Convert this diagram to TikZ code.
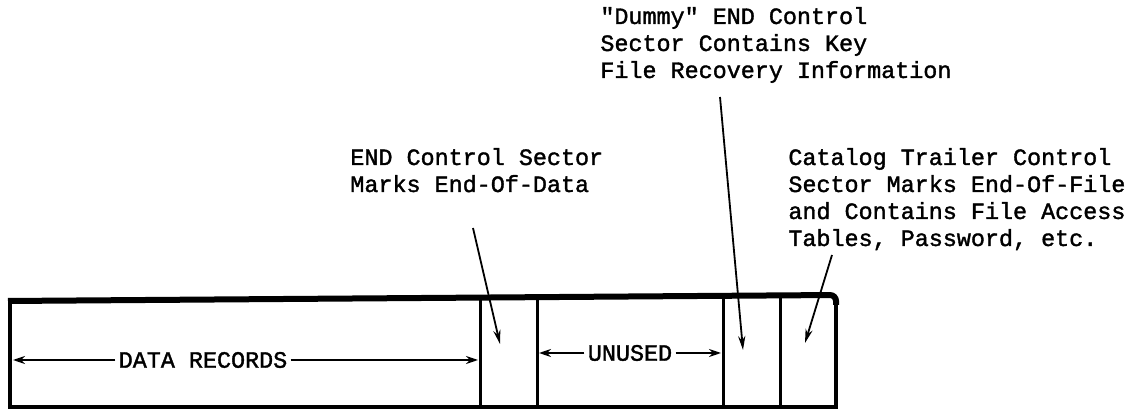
\documentclass[tikz,border=0pt]{standalone}
\usepackage{fontspec}
\newfontfamily\typewriter[FakeBold=1.5]{Liberation Mono}
\usetikzlibrary{arrows.meta}
\tikzset{
  remark/.style={font=\typewriter\fontsize{11.7}{13.5}\selectfont, align=left, anchor=base west, inner sep=0pt},
  fieldtxt/.style={font=\typewriter\fontsize{11.7}{13.5}\selectfont, inner sep=1.5pt},
  wall/.style={line width=2.4pt},
  divider/.style={line width=1.5pt},
  pointer/.style={line width=0.9pt, -{Stealth[length=7pt,width=3.6pt]}},
  extent/.style={line width=0.9pt, -{Stealth[length=6pt,width=4pt]}}
}
\begin{document}
\begin{tikzpicture}[x=0.5pt, y=-0.5pt]
  \useasboundingbox (0,0) rectangle (1135,410);
  % --- the file: one long record area, then the control sectors ---
  \draw[wall] (10,301) -- (10,407) -- (836,407) -- (836,298);
  \draw[line width=3pt, rounded corners=3pt] (8,301) -- (836,295) -- (836,305);
  \foreach \x in {480,537,723,780}
    \draw[divider] (\x,298) -- (\x,407);
  % walls the spans run to
  \coordinate (datastart) at (13,360);
  \coordinate (dataend)   at (478,360);
  \coordinate (freestart) at (539,353);
  \coordinate (freeend)   at (721,353);
  % spans inside the file
  \node[fieldtxt] (datatxt) at (203,360) {DATA RECORDS};
  \node[fieldtxt] (freetxt) at (630,353) {UNUSED};
  \draw[extent] (datatxt.west) -- (datastart);
  \draw[extent] (datatxt.east) -- (dataend);
  \draw[extent] (freetxt.west) -- (freestart);
  \draw[extent] (freetxt.east) -- (freeend);
  % callouts above (placed by the baseline of their last line)
  \node[remark] (endnote) at (350,192) {END Control Sector\\Marks End-Of-Data};
  \node[remark] (dummynote) at (600,78) {"Dummy" END Control\\Sector Contains Key\\File Recovery Information};
  \node[remark] (trailnote) at (788,246) {Catalog Trailer Control\\Sector Marks End-Of-File\\and Contains File Access\\Tables, Password, etc.};
  % where the pointers start and end
  \coordinate (endfrom)   at (473,228);
  \coordinate (endsec)    at (500,344);
  \coordinate (dummyfrom) at (720,97);
  \coordinate (dummysec)  at (743,350);
  \coordinate (trailfrom) at (832,255);
  \coordinate (trailsec)  at (805,343);
  \draw[pointer] (endfrom) -- (endsec);
  \draw[pointer] (dummyfrom) -- (dummysec);
  \draw[pointer] (trailfrom) -- (trailsec);
\end{tikzpicture}
\end{document}
